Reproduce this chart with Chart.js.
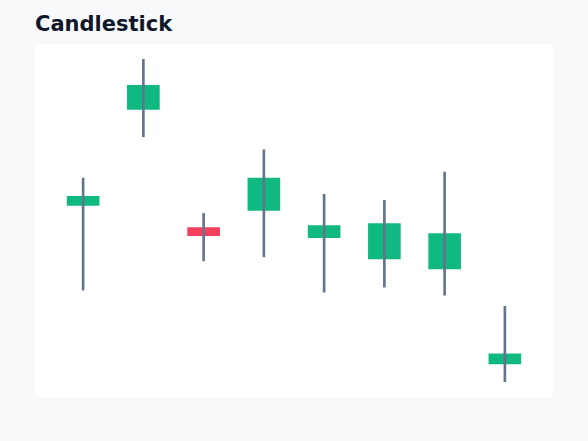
<!DOCTYPE html>
<html>
<head>
<meta charset="utf-8">
<script src="https://cdn.jsdelivr.net/npm/chart.js@4"></script>
<style>
  html, body { margin: 0; padding: 0; background: #f8f9fb; }
  body { width: 588px; height: 441px; position: relative; overflow: hidden; }
  .title {
    position: absolute; left: 35px; top: 14px;
    font-family: "DejaVu Sans", sans-serif; font-weight: bold;
    font-size: 21px; line-height: 21px; color: #0f172a;
  }
  .card {
    position: absolute; left: 35px; top: 44px;
    width: 518px; height: 353px; background: #ffffff;
  }
</style>
</head>
<body>
<div class="title">Candlestick</div>
<div class="card"><canvas id="chart"></canvas></div>
<script>
const labels = ['Day 1', 'Day 2', 'Day 3', 'Day 4', 'Day 5', 'Day 6', 'Day 7', 'Day 8'];
const opens  = [105.5, 115.0, 103.3, 105.0, 102.3, 100.2,  99.2, 89.8];
const closes = [106.4, 117.4, 102.5, 108.2, 103.5, 103.7, 102.7, 90.8];
const highs  = [108.2, 120.0, 104.7, 111.0, 106.6, 106.0, 108.8, 95.5];
const lows   = [ 97.1, 112.3, 100.0, 100.4,  96.9,  97.4,  96.6, 88.0];

const upColor = '#10b981';
const downColor = '#f43f5e';
const wickColor = '#64748b';

new Chart(document.getElementById('chart').getContext('2d'), {
  type: 'bar',
  data: {
    labels: labels,
    datasets: [
      {
        label: 'Wick',
        data: lows.map((l, i) => [l, highs[i]]),
        backgroundColor: wickColor,
        barThickness: 2,
        grouped: false,
      },
      {
        label: 'Body',
        data: opens.map((o, i) => [o, closes[i]]),
        backgroundColor: opens.map((o, i) => closes[i] >= o ? upColor : downColor),
        barThickness: 32,
        grouped: false,
      },
    ],
  },
  options: {
    responsive: true,
    maintainAspectRatio: false,
    animation: false,
    layout: { padding: { left: 18, right: 18, top: 15, bottom: 15 } },
    plugins: {
      legend: { display: false },
      tooltip: { enabled: false },
    },
    scales: {
      x: { display: false },
      y: { display: false, min: 88, max: 120 },
    },
  },
});
</script>
</body>
</html>
